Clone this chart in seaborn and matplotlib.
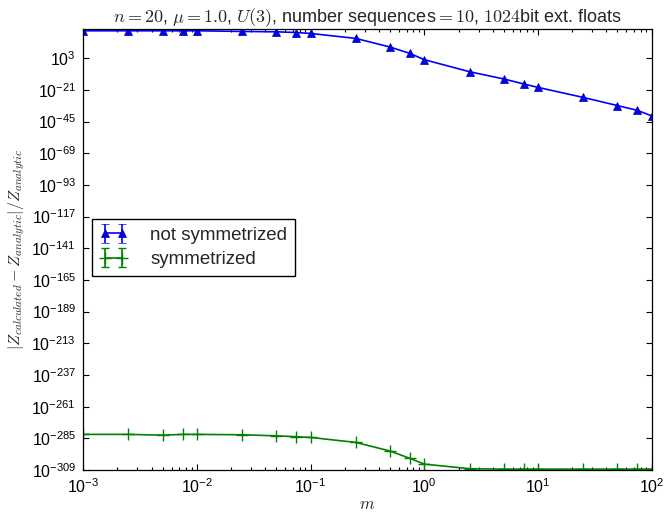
# relative error of the partition function vs m, symmetrized / not symmetrized
import numpy as np
import pandas as pd
import matplotlib
matplotlib.use("Agg")
import matplotlib.pyplot as plt
import seaborn as sns
from matplotlib.ticker import FixedLocator, LogFormatterSciNotation, NullLocator

# === data ===
m = [0.001, 0.0025, 0.005, 0.0075, 0.01, 0.025, 0.05, 0.075, 0.1, 0.25,
     0.5, 0.75, 1, 2.5, 5, 7.5, 10, 25, 50, 75, 100]
err_not_sym = [6e23, 6e23, 6e23, 6e23, 6e23, 2e23, 1e23, 3e22, 6e21, 1e18,
               3e11, 4e6, 80, 6e-8, 2e-13, 3e-17, 8e-20, 2e-27, 1.3e-33, 3e-37, 2e-41]
err_sym = [1e-282, 1e-282, 2.5e-283, 1e-282, 1e-282, 5e-283, 8e-284, 1.6e-284, 5e-285,
           8e-289, 2.5e-295, 6e-301, 3e-305, 1e-308, 5e-309, 5e-309, 5e-309,
           5e-309, 5e-309, 5e-309, 5e-309]
y_tick_exp = list(range(-309, 4, 24))
labels = ["not symmetrized", "symmetrized"]

df = pd.DataFrame({"m": m, "not_sym": err_not_sym, "sym": err_sym})

# === style ===
sns.set_style("ticks")
plt.rcParams["font.family"] = ["Liberation Sans", "DejaVu Sans"]
plt.rcParams["mathtext.fontset"] = "cm"
plt.rcParams["axes.linewidth"] = 0.9

fig = plt.figure(figsize=(6.65, 5.12), dpi=100)
ax = fig.add_axes([0.125, 0.082, 0.855, 0.861])
ax.set_xscale("log")
ax.set_yscale("log")

sns.lineplot(data=df, x="m", y="not_sym", ax=ax, color="b", marker="^", ms=6,
             mec="navy", mew=0.5, lw=1.2, estimator=None, errorbar=None, legend=False)
sns.lineplot(data=df, x="m", y="sym", ax=ax, color="g", marker="+", ms=8,
             mec="g", mew=1.0, lw=1.2, estimator=None, errorbar=None, legend=False)

# errorbar-style proxies for the legend
h1 = ax.errorbar([np.nan], [np.nan], yerr=[0], fmt="^-", color="b", mec="navy",
                 mew=0.5, ms=6, lw=1.2, capsize=3, label=labels[0])
h2 = ax.errorbar([np.nan], [np.nan], yerr=[0], fmt="+-", color="g", mec="g", ms=8,
                 mew=1.0, lw=1.2, capsize=3, label=labels[1])

ax.set_xlim(1e-3, 1e2)
ax.set_ylim(1e-309, 1e25)
ax.yaxis.set_major_locator(FixedLocator([10.0 ** e for e in y_tick_exp]))
ax.yaxis.set_major_formatter(LogFormatterSciNotation())
ax.yaxis.set_minor_locator(NullLocator())
ax.tick_params(which="both", direction="in", top=True, right=True, colors="k",
               labelsize=11.5, width=0.8)
ax.tick_params(which="major", length=4.5, pad=5)
ax.tick_params(which="minor", length=2.5)
for s in ax.spines.values():
    s.set_color("k")

ax.set_title(r"$n=20$, $\mu=1.0$, $U(3)$, number sequences$=10$, $1024$bit ext. floats",
             fontsize=13, pad=3)
ax.set_xlabel(r"$m$", fontsize=12, labelpad=1)
ax.set_ylabel(r"$|Z_{calculated}-Z_{analytic}|/Z_{analytic}$", fontsize=11.5, labelpad=3)

leg = ax.legend(handles=[h1, h2], loc="upper left", bbox_to_anchor=(0.016, 0.569),
                borderaxespad=0, fancybox=False, edgecolor="k", framealpha=1,
                fontsize=13.5, numpoints=2, handlelength=1.5, handletextpad=1.2,
                labelspacing=0.4)
leg.get_frame().set_linewidth(1.0)

fig.savefig("out.png", dpi=100)
